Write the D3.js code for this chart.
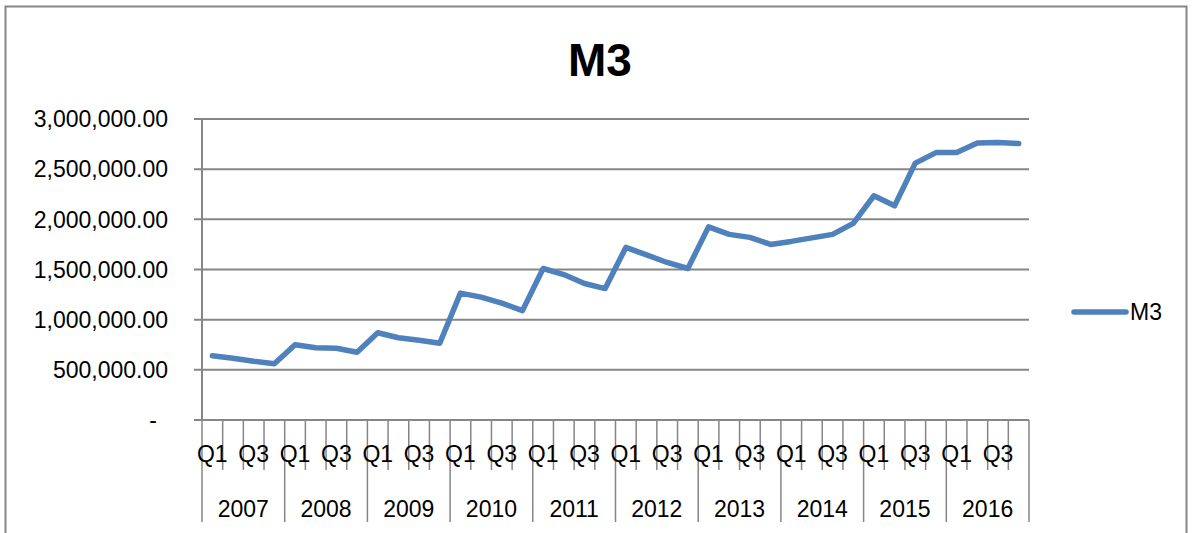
<!DOCTYPE html>
<html>
<head>
<meta charset="utf-8">
<script src="https://cdn.jsdelivr.net/npm/d3@7"></script>
<style>
  body { margin: 0; background: #fff; }
  text { font-family: "Liberation Sans", Arial, sans-serif; fill: #000; }
</style>
</head>
<body>
<div class="chart"></div>
<script>
const years = ["2007", "2008", "2009", "2010", "2011", "2012", "2013", "2014", "2015", "2016"];
const quarters = ["Q1", "Q2", "Q3", "Q4"];
const m3Values = [
  640000, 615000, 585000, 560000,
  750000, 720000, 715000, 675000,
  870000, 820000, 795000, 765000,
  1265000, 1225000, 1165000, 1090000,
  1510000, 1450000, 1360000, 1310000,
  1720000, 1645000, 1570000, 1510000,
  1925000, 1850000, 1820000, 1750000,
  1780000, 1815000, 1850000, 1960000,
  2235000, 2135000, 2560000, 2665000,
  2665000, 2760000, 2765000, 2755000
];
const yTicks = [0, 500000, 1000000, 1500000, 2000000, 2500000, 3000000];

const width = 1194, height = 533;
const plotLeft = 202, plotRight = 1029, plotTop = 119, plotBottom = 420;
const grey = "#868686";

const svg = d3.select(".chart").append("svg")
  .attr("width", width)
  .attr("height", height);

// chart border
svg.append("rect")
  .attr("x", 5.5).attr("y", 6.5)
  .attr("width", 1181).attr("height", 560)
  .attr("fill", "none")
  .attr("stroke", grey)
  .attr("stroke-width", 2);

// categories
const keys = [];
years.forEach(y => quarters.forEach(q => keys.push(y + " " + q)));

const x = d3.scaleBand().domain(keys).range([plotLeft, plotRight]).padding(0);
const y = d3.scaleLinear().domain([0, 3000000]).range([plotBottom, plotTop]);

// gridlines
svg.append("g").selectAll("line")
  .data(yTicks)
  .enter().append("line")
  .attr("x1", plotLeft - 8).attr("x2", plotRight)
  .attr("y1", d => y(d)).attr("y2", d => y(d))
  .attr("stroke", grey)
  .attr("stroke-width", 2);

// y axis line
svg.append("line")
  .attr("x1", plotLeft).attr("x2", plotLeft)
  .attr("y1", plotTop).attr("y2", plotBottom)
  .attr("stroke", grey).attr("stroke-width", 2);

// y labels
const fmt = d3.format(",.2f");
svg.append("g").selectAll("text")
  .data(yTicks)
  .enter().append("text")
  .attr("x", 168)
  .attr("dx", d => d === 0 ? -11 : 0)
  .attr("y", d => y(d))
  .attr("dy", "0.36em")
  .attr("text-anchor", "end")
  .style("font-size", "23px")
  .text(d => d === 0 ? "-" : fmt(d));

// x ticks at category boundaries
const bounds = keys.map(k => x(k)).concat([plotRight]);
svg.append("g").selectAll("line")
  .data(bounds)
  .enter().append("line")
  .attr("x1", d => d).attr("x2", d => d)
  .attr("y1", plotBottom)
  .attr("y2", (d, i) => i % 4 === 0 ? 522 : 470)
  .attr("stroke", grey)
  .attr("stroke-width", 1.5);

// x axis line
svg.append("line")
  .attr("x1", plotLeft - 8).attr("x2", plotRight)
  .attr("y1", plotBottom).attr("y2", plotBottom)
  .attr("stroke", grey).attr("stroke-width", 2);

// quarter labels (every other)
svg.append("g").selectAll("text")
  .data(keys.filter((k, i) => i % 2 === 0))
  .enter().append("text")
  .attr("x", d => x(d) + x.bandwidth() / 2)
  .attr("y", 462)
  .attr("text-anchor", "middle")
  .style("font-size", "23px")
  .text(d => d.split(" ")[1]);

// year labels
svg.append("g").selectAll("text")
  .data(years)
  .enter().append("text")
  .attr("x", d => (x(d + " Q1") + x(d + " Q4") + x.bandwidth()) / 2)
  .attr("y", 517)
  .attr("text-anchor", "middle")
  .style("font-size", "23px")
  .text(d => d);

// line
const line = d3.line()
  .x((d, i) => x(keys[i]) + x.bandwidth() / 2)
  .y(d => y(d));

svg.append("path")
  .datum(m3Values)
  .attr("d", line)
  .attr("fill", "none")
  .attr("stroke", "#4F81BD")
  .attr("stroke-width", 5.5)
  .attr("stroke-linejoin", "round")
  .attr("stroke-linecap", "round");

// title
svg.append("text")
  .attr("x", 600)
  .attr("y", 76)
  .attr("text-anchor", "middle")
  .style("font-size", "46px")
  .style("font-weight", "bold")
  .text("M3");

// legend
svg.append("line")
  .attr("x1", 1074).attr("x2", 1126)
  .attr("y1", 312).attr("y2", 312)
  .attr("stroke", "#4F81BD")
  .attr("stroke-width", 5.5)
  .attr("stroke-linecap", "round");

svg.append("text")
  .attr("x", 1130)
  .attr("y", 312)
  .attr("dy", "0.36em")
  .style("font-size", "23px")
  .text("M3");
</script>
</body>
</html>
